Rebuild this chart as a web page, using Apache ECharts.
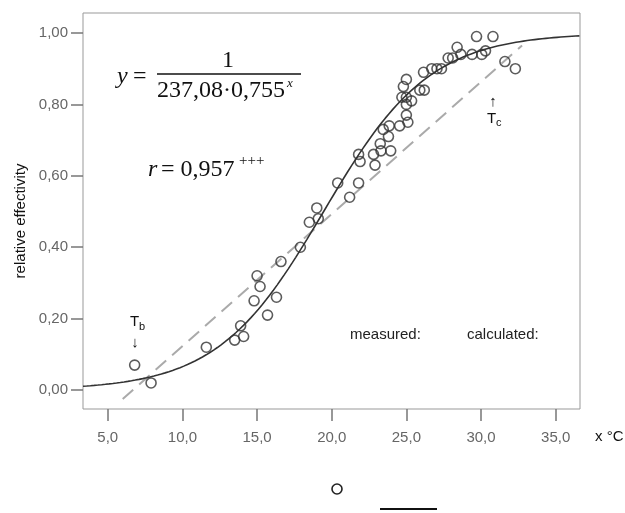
<!DOCTYPE html>
<html>
<head>
<meta charset="utf-8">
<script src="https://cdn.jsdelivr.net/npm/echarts@6/dist/echarts.min.js"></script>
<style>
  html, body { margin: 0; padding: 0; background: #fff; }
  #chart { width: 625px; height: 513px; }
</style>
</head>
<body>
<div id="chart"></div>
<script>
// Tick positions on both axes
const xTicks = [5, 10, 15, 20, 25, 30, 35];
const yTicks = [0, 0.2, 0.4, 0.6, 0.8, 1.0];

// Measured relative effectivity against temperature (°C)
const measuredTemp = [
  6.8, 7.9, 11.6, 13.5, 14.1, 13.9, 14.8, 15.0, 15.2, 15.7,
  16.3, 16.6, 17.9, 18.5, 19.1, 19.0, 20.4, 21.2, 21.8, 21.8,
  21.9, 22.8, 22.9, 23.25, 23.3, 23.95, 23.45, 23.8, 23.85, 24.55,
  25.1, 25.0, 25.0, 24.7, 25.0, 25.35, 24.8, 25.0, 25.9, 26.2,
  26.15, 26.7, 27.05, 27.35, 27.8, 28.1, 28.4, 28.65, 29.4, 29.7,
  30.05, 30.3, 30.8, 31.6, 32.3
];
const measuredEff = [
  0.07, 0.02, 0.12, 0.14, 0.15, 0.18, 0.25, 0.32, 0.29, 0.21,
  0.26, 0.36, 0.40, 0.47, 0.48, 0.51, 0.58, 0.54, 0.58, 0.66,
  0.64, 0.66, 0.63, 0.69, 0.67, 0.67, 0.73, 0.71, 0.74, 0.74,
  0.75, 0.77, 0.80, 0.82, 0.82, 0.81, 0.85, 0.87, 0.84, 0.84,
  0.89, 0.90, 0.90, 0.90, 0.93, 0.93, 0.96, 0.94, 0.94, 0.99,
  0.94, 0.95, 0.99, 0.92, 0.90
];

// Linear (calculated) model between its two end points
const calcTemp = [6.0, 32.75];
const calcEff = [-0.025, 0.965];

// Logistic fit y = 1 / (1 + A * B^x), parameters as printed on the chart
const fitA = 237.08;
const fitB = 0.755;
const fitRange = [3.34, 36.63];
const fitR = 0.957;

const xRange = [3.34, 36.63];
const yRange = [-0.053, 1.056];

const comma = (v, d) => v.toFixed(d).replace('.', ',');

const fitPoints = [];
for (let x = fitRange[0]; x <= fitRange[1] + 1e-9; x += 0.25) {
  fitPoints.push([x, 1 / (1 + fitA * Math.pow(fitB, x))]);
}

const chart = echarts.init(document.getElementById('chart'), null, { renderer: 'canvas' });

const serif = '"Liberation Serif", "Times New Roman", serif';
const sans = '"Liberation Sans", Arial, sans-serif';

chart.setOption({
  animation: false,
  backgroundColor: '#fff',
  grid: {
    left: 83, right: 45, top: 13, bottom: 104,
    show: true, borderColor: '#999', borderWidth: 1,
    containLabel: false
  },
  xAxis: {
    type: 'value',
    min: xRange[0], max: xRange[1],
    splitLine: { show: false },
    axisLine: { show: false, onZero: false },
    axisTick: { show: true, inside: false, length: 12, customValues: xTicks,
      lineStyle: { color: '#777', width: 1.5 } },
    axisLabel: { customValues: xTicks, margin: 21, color: '#666',
      fontFamily: sans, fontSize: 15, formatter: v => comma(v, 1) }
  },
  yAxis: {
    type: 'value',
    min: yRange[0], max: yRange[1],
    splitLine: { show: false },
    axisLine: { show: false, onZero: false },
    axisTick: { show: true, inside: false, length: 12, customValues: yTicks,
      lineStyle: { color: '#777', width: 1.5 } },
    axisLabel: { customValues: yTicks, margin: 15, color: '#666',
      fontFamily: sans, fontSize: 15, formatter: v => comma(v, 2) }
  },
  series: [
    {
      type: 'line',
      data: calcTemp.map((x, i) => [x, calcEff[i]]),
      showSymbol: false,
      lineStyle: { color: '#aaa', width: 2, type: [14, 8] },
      z: 1
    },
    {
      type: 'line',
      data: fitPoints,
      showSymbol: false,
      smooth: false,
      lineStyle: { color: '#333', width: 1.6 },
      z: 2
    },
    {
      type: 'scatter',
      data: measuredTemp.map((x, i) => [x, measuredEff[i]]),
      symbol: 'circle',
      symbolSize: 10,
      itemStyle: { color: 'rgba(0,0,0,0)', borderColor: '#333', borderWidth: 1.6 },
      z: 3
    }
  ],
  graphic: [
    // y axis title
    { type: 'text', x: 21, y: 221, rotation: Math.PI / 2,
      style: { text: 'relative effectivity', font: '15px ' + sans, fill: '#111', align: 'center', verticalAlign: 'middle' } },

    // regression formula
    { type: 'text', x: 117, y: 77, style: { text: 'y', font: 'italic 24px ' + serif, fill: '#111', verticalAlign: 'middle' } },
    { type: 'text', x: 133, y: 77, style: { text: '=', font: '24px ' + serif, fill: '#111', verticalAlign: 'middle' } },
    { type: 'text', x: 228, y: 61, style: { text: '1', font: '24px ' + serif, fill: '#111', align: 'center', verticalAlign: 'middle' } },
    { type: 'line', shape: { x1: 157, y1: 74, x2: 301, y2: 74 }, style: { stroke: '#111', lineWidth: 1.3 } },
    { type: 'text', x: 157, y: 91, style: { text: comma(fitA, 2) + '\u00b7' + comma(fitB, 3), font: '24px ' + serif, fill: '#111', verticalAlign: 'middle' } },
    { type: 'text', x: 287, y: 84, style: { text: 'x', font: 'italic 13px ' + serif, fill: '#111', verticalAlign: 'middle' } },
    { type: 'text', x: 148, y: 170, style: { text: 'r', font: 'italic 24px ' + serif, fill: '#111', verticalAlign: 'middle' } },
    { type: 'text', x: 161, y: 170, style: { text: '= ' + comma(fitR, 3), font: '24px ' + serif, fill: '#111', verticalAlign: 'middle' } },
    { type: 'text', x: 239, y: 161, style: { text: '+++', font: '15px ' + serif, fill: '#111', verticalAlign: 'middle' } },

    // thresholds
    { type: 'text', x: 130, y: 322, style: { text: 'T', font: '15px ' + sans, fill: '#111', verticalAlign: 'middle' } },
    { type: 'text', x: 139, y: 327, style: { text: 'b', font: '11px ' + sans, fill: '#111', verticalAlign: 'middle' } },
    { type: 'text', x: 135, y: 343, style: { text: '\u2193', font: '15px ' + sans, fill: '#111', align: 'center', verticalAlign: 'middle' } },
    { type: 'text', x: 493, y: 102, style: { text: '\u2191', font: '15px ' + sans, fill: '#111', align: 'center', verticalAlign: 'middle' } },
    { type: 'text', x: 487, y: 119, style: { text: 'T', font: '15px ' + sans, fill: '#111', verticalAlign: 'middle' } },
    { type: 'text', x: 496, y: 123, style: { text: 'c', font: '11px ' + sans, fill: '#111', verticalAlign: 'middle' } },

    // legend captions
    { type: 'text', x: 350, y: 335, style: { text: 'measured:', font: '15px ' + sans, fill: '#222', verticalAlign: 'middle' } },
    { type: 'text', x: 467, y: 335, style: { text: 'calculated:', font: '15px ' + sans, fill: '#222', verticalAlign: 'middle' } },
    { type: 'circle', shape: { cx: 337, cy: 489, r: 5 }, style: { fill: 'none', stroke: '#222', lineWidth: 1.6 } },
    { type: 'line', shape: { x1: 380, y1: 509, x2: 437, y2: 509 }, style: { stroke: '#111', lineWidth: 2 } },

    // x axis unit
    { type: 'text', x: 595, y: 437, style: { text: 'x \u00b0C', font: '15px ' + sans, fill: '#111', verticalAlign: 'middle' } }
  ]
});
</script>
</body>
</html>
